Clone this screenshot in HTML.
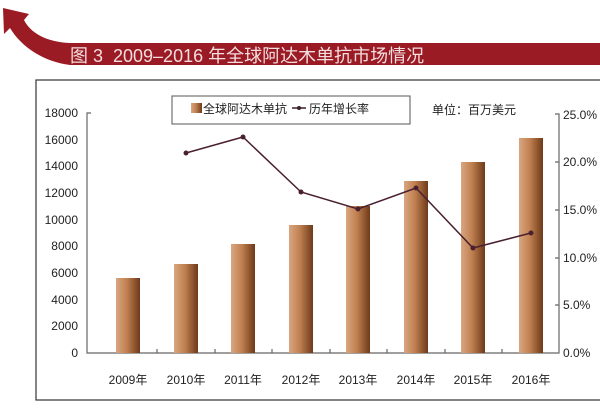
<!DOCTYPE html><html><head><meta charset="utf-8"><style>body{margin:0;background:#fff}svg text{font-family:"Liberation Sans","Noto Sans CJK SC",sans-serif}</style></head><body>
<svg width="600" height="405" xmlns="http://www.w3.org/2000/svg">
<defs><linearGradient id="g" x1="0" x2="1"><stop offset="0" stop-color="#d9a680"/><stop offset="0.45" stop-color="#c08050"/><stop offset="1" stop-color="#6e3a1a"/></linearGradient></defs>
<path d="M70,43 L600,43 L600,65 L70,65 Z" fill="#9b1b24"/>
<path d="M70,43 C45,42 30,32 24,20 L29,14 L3,8 L4,34 L10,28 C22,48 45,62 70,65 Z" fill="#9b1b24"/>
<text x="70" y="62" font-size="18" fill="#f2dede">图 3</text>
<text x="113" y="62" font-size="18" fill="#f2dede">2009–2016 年全球阿达木单抗市场情况</text>
<rect x="36" y="80" width="570" height="320" fill="none" stroke="#333" stroke-width="1.2"/>
<rect x="172" y="96" width="238" height="28" fill="#fff" stroke="#555"/>
<rect x="191" y="103" width="11" height="10" fill="url(#g)"/>
<text x="203" y="113" font-size="12" fill="#222">全球阿达木单抗</text>
<line x1="292" y1="108" x2="306" y2="108" stroke="#3a1f2a" stroke-width="1.5"/><circle cx="299" cy="108" r="2" fill="#3a1f2a"/>
<text x="309" y="113" font-size="12" fill="#222">历年增长率</text>
<text x="432" y="114" font-size="12" fill="#222">单位：百万美元</text>
<g font-size="12" fill="#222" text-anchor="end">
<text x="78" y="117">18000</text><text x="78" y="144">16000</text><text x="78" y="170">14000</text><text x="78" y="197">12000</text><text x="78" y="224">10000</text><text x="78" y="250">8000</text><text x="78" y="277">6000</text><text x="78" y="304">4000</text><text x="78" y="330">2000</text><text x="78" y="357">0</text></g>
<g font-size="12" fill="#222"><text x="563" y="119">25.0%</text><text x="563" y="166">20.0%</text><text x="563" y="214">15.0%</text><text x="563" y="262">10.0%</text><text x="563" y="309">5.0%</text><text x="563" y="357">0.0%</text></g>
<g stroke="#666" stroke-width="1.2" fill="none"><path d="M91,113 L87,113 L87,353 L559,353 L559,114 L555,114"/>
<path d="M157,353V349M215,353V349M272,353V349M330,353V349M387,353V349M445,353V349M502,353V349M555,162H559M555,210H559M555,258H559M555,305H559"/></g>
<g fill="url(#g)">
<rect x="116" y="278" width="24" height="75"/><rect x="174" y="264" width="24" height="89"/><rect x="231" y="244" width="24" height="109"/><rect x="289" y="225" width="24" height="128"/><rect x="346" y="206" width="24" height="147"/><rect x="404" y="181" width="24" height="172"/><rect x="461" y="162" width="24" height="191"/><rect x="519" y="138" width="24" height="215"/></g>
<polyline points="186,153 243,137 301,192 358,209 416,188 473,248 531,233" fill="none" stroke="#4a2030" stroke-width="1.5"/>
<g fill="#4a2030"><circle cx="186" cy="153" r="2.5"/><circle cx="243" cy="137" r="2.5"/><circle cx="301" cy="192" r="2.5"/><circle cx="358" cy="209" r="2.5"/><circle cx="416" cy="188" r="2.5"/><circle cx="473" cy="248" r="2.5"/><circle cx="531" cy="233" r="2.5"/></g>
<g font-size="12" fill="#222" text-anchor="middle"><text x="128" y="384">2009年</text><text x="186" y="384">2010年</text><text x="243" y="384">2011年</text><text x="301" y="384">2012年</text><text x="358" y="384">2013年</text><text x="416" y="384">2014年</text><text x="473" y="384">2015年</text><text x="531" y="384">2016年</text></g>
</svg></body></html>
